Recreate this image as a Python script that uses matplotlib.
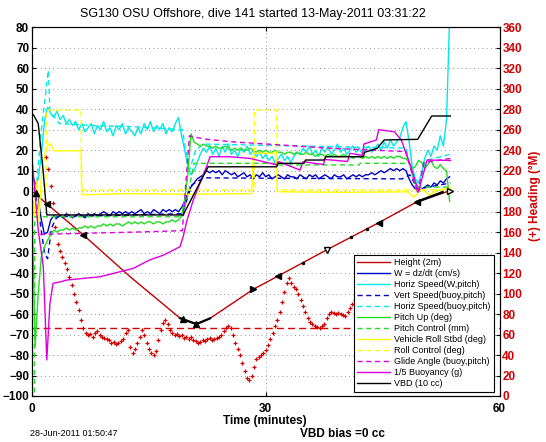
import numpy as np
import matplotlib
matplotlib.use('Agg')
import matplotlib.pyplot as plt

plt.rcParams['font.family'] = ['Liberation Sans', 'DejaVu Sans']

# ---------------- data (time in minutes, left-axis units unless noted) ----------------
step = 0.4  # sample spacing of the noisy traces

hs_w = [0, 2, 6, 18, 34, 41, 38, 36, 39, 35,
        37, 33, 35, 32, 34, 30, 33, 29, 31, 33,
        28, 32, 30, 34, 29, 31, 27, 32, 30, 33,
        28, 31, 29, 27, 31, 28, 33, 30, 34, 29,
        32, 30, 33, 28, 31, 29, 33, 36, 27, 20,
        12, 8, 10, 14, 18, 21, 19, 22, 18, 21,
        17, 22, 19, 23, 18, 20, 17, 21, 19, 22,
        18, 20, 17, 19, 16, 18, 15, 17, 14, 16,
        18, 15, 17, 14, 17, 19, 18, 21, 19, 22,
        18, 20, 17, 21, 19, 22, 18, 20, 23, 19,
        21, 18, 20, 22, 19, 21, 18, 20, 22, 19,
        21, 23, 20, 24, 21, 25, 22, 24, 26, 31,
        34, 24, 12, 6, 4, 9, 16, 20, 17, 22,
        20, 27, 22, 35, 85]

w_dzdt = [8, 4, -4, -14, -21, -20, -14, -12, -13, -12,
          -13, -11, -12, -13, -12, -11, -12, -13, -11, -12,
          -11, -12, -11, -10, -11, -12, -10, -11, -10, -11,
          -10, -11, -10, -11, -10, -9, -11, -10, -11, -9,
          -10, -11, -9, -10, -9, -10, -9, -10, -8, -5,
          -1, 2, 4, 6, 7, 8, 10, 9, 10, 9,
          10, 8, 10, 9, 8, 9, 7, 8, 9, 7,
          8, 6, 8, 7, 9, 7, 8, 6, 7, 8,
          7, 6, 8, 7, 7, 6, 8, 7, 6, 8,
          7, 8, 6, 7, 8, 7, 6, 8, 7, 7,
          8, 6, 7, 8, 7, 8, 7, 8, 8, 9,
          8, 9, 10, 9, 10, 11, 10, 11, 10, 11,
          10, 6, 3, 1, 0, 1, 2, 3, 2, 4,
          3, 5, 4, 6, 7]

pitch = [-5, -76, -50, -32, -27, -24, -21, -19, -20, -19,
         -19, -18, -19, -18, -19, -18, -18, -17, -18, -17,
         -18, -17, -17, -16, -17, -16, -17, -16, -16, -17,
         -16, -15, -16, -15, -16, -15, -16, -15, -15, -16,
         -15, -15, -16, -15, -15, -14, -15, -14, -12, -4,
         8, 28, 24, 23, 22, 23, 22, 22, 21, 22,
         21, 21, 22, 21, 20, 21, 20, 21, 20, 20,
         21, 20, 19, 20, 19, 20, 19, 19, 20, 19,
         19, 18, 19, 19, 18, 19, 18, 18, 19, 18,
         18, 17, 18, 18, 17, 18, 17, 18, 17, 17,
         18, 17, 17, 16, 17, 17, 16, 17, 16, 17,
         16, 17, 16, 17, 16, 17, 16, 17, 17, 16,
         16, 14, 11, 12, 15, 14, 11, 13, 15, 12,
         11, 13, 11, 10, -5]

# heading in degrees (right axis), sampled every 0.3 min from 1.8 min
hdg_t0, hdg_step = 1.8, 0.3
heading = [233, 222, 205, 188, 165, 148, 142, 136, 130, 124,
           116, 108, 100, 92, 84, 74, 66, 62, 60, 61,
           58, 62, 63, 60, 58, 57, 56, 55, 52, 53,
           51, 52, 54, 56, 62, 64, 48, 42, 46, 52,
           58, 64, 60, 52, 46, 42, 40, 44, 55, 64,
           71, 74, 70, 64, 62, 60, 61, 59, 60, 57,
           58, 56, 58, 55, 54, 52, 53, 55, 54, 56,
           57, 55, 56, 57, 58, 60, 63, 66, 68, 66,
           60, 52, 46, 40, 32, 24, 18, 16, 20, 28,
           36, 38, 40, 42, 45, 50, 56, 62, 68, 74,
           82, 92, 102, 110, 115, 110, 106, 104, 100, 94,
           88, 82, 76, 72, 70, 68, 67, 66, 68, 70,
           76, 80, 82, 81, 80, 81, 80, 79, 78, 82,
           86, 90, 94, 96, 98, 100, 103, 105, 108, 110,
           112, 115, 118, 120, 122, 124, 126, 128, 130, 128,
           126, 125, 124, 122, 120, 118, 121, 124, 127, 130,
           128, 126, 124, 122, 120, 119, 121, 123, 125, 127,
           126, 124, 122]

depth_t = [0, 6.6, 12.6, 19.0, 21.1, 22.85, 28.4, 31.6, 37.8, 44.5, 49.4, 53.7]
depth_v = [0, -21.4, -41.8, -62.0, -64.9, -62.1, -47.9, -41.4, -28.7, -15.4, -5.2, 0.3]
heading_target = -67

vbd_t = [0, 0.2, 0.8, 1.45, 1.9, 19.4, 22.6, 31.4, 31.6, 34.9, 35.1, 37.5, 37.7,
         42.5, 42.7, 44.3, 45.2, 49.5, 51.3, 53.7]
vbd_v = [37.5, 37.2, 33, 9, -11.6, -11.6, 11.9, 11.9, 13.6, 13.6, 15.2, 15.2, 16.8,
         16.8, 19, 20.9, 25, 25.3, 36.7, 36.7]

buoy_t = [0, 0.8, 1.45, 1.9, 2.3, 2.7, 3.6, 4.45, 8.7, 13.0, 15.1, 16.9, 19.0, 19.4,
          19.9, 20.7, 22.4, 22.85, 25.4, 28.0, 31.4, 31.6, 34.4, 34.8, 37.4, 37.6,
          40.5, 40.8, 42.4, 42.6, 44.2, 44.5, 46.5, 47.4, 48.6, 49.6, 50.7, 53.7]
buoy_v = [16.2, -19, -36.9, -82.4, -54.8, -45, -44.3, -43.4, -41.8, -37.7, -33.6, -31.2,
          -27.1, -22.2, -14.1, -4.3, 11.9, 16.8, 16.8, 16, 12.8, 14.5, 10.3, 14.4, 13,
          15.5, 14.5, 18.5, 17.5, 23, 25, 30, 29, 25, 12, -0.3, 15.2, 15]

glide_t = [1.0, 2.0, 13.0, 19.3, 20.2, 22.0, 26.0, 31.0, 38.0, 44.0, 48.0, 48.8,
           49.5, 50.3, 53.7]
glide_v = [-21, -21, -20, -19.3, 27, 25.5, 24, 22.8, 21, 20, 19.3, 8, -1, 14, 16]

pctl_t = [0, 0.3, 0.35, 19.3, 20.0, 20.8, 31.5, 31.6, 42.0, 42.1, 48.5, 49.3, 53.7]
pctl_v = [-110, -110, -12.5, -12.5, -2, 13.6, 13.6, 12.8, 12.8, 13.6, 13.6, 2, 2]

roll_t = [0, 0.3, 0.6, 0.9, 1.2, 1.5, 1.9, 2.3, 2.8, 6.3, 6.4, 12.0, 20.0, 28.2,
          28.4, 31.3, 31.5, 40.0, 48.2, 49.0, 50.0, 51.0, 52.0, 53.7]
roll_v = [0, -12, 5, -15, 8, 15, 21.7, 23.4, 19.7, 19.7, -1.8, -1.2, -1.5, -1.2,
          18.5, 18.5, -0.3, -0.6, -0.3, -3, 1, -2, 0.5, 1.5]

rctl_t = [0, 1.8, 1.85, 6.3, 6.35, 28.5, 28.55, 31.4, 31.45, 53.7]
rctl_v = [0, 0, 39.6, 39.6, 0.6, 0.6, 39.6, 39.6, 0.6, 0.6]

vs_t = [0.3, 1.0, 1.6, 2.0, 2.5, 3.2, 19.3, 20.5, 22.0, 47.5, 48.5, 49.5, 53.7]
vs_v = [2, -14, -30, -33, -18, -12.5, -11, 3, 6.5, 6, 8, 1, 4]

hsb_t = [0.5, 1.2, 1.45, 2.1, 2.3, 3.5, 8, 13, 19.3, 20.2, 21, 22, 48, 48.8,
         49.6, 50.5, 53.7]
hsb_v = [0, 30, 38, 59, 39, 33, 32, 31.5, 30, 10, 20, 23, 21, 8, 2, 15, 18]

# events marked on the depth trace
ev_t = [0.5, 1.9, 6.6, 19.4, 21.1, 28.4, 31.6, 37.8, 44.5, 49.4, 53.7]
ev_v = [-1, -6.2, -21.4, -62.5, -64.9, -47.9, -41.4, -28.7, -15.4, -5.2, 0.3]
ev_m = ['^', '<', '<', '^', '^', '>', '<', 'v', '<', '<', '>']
ev_fill = [True, True, True, True, True, True, True, False, True, True, False]
dot_t = [34.8, 41.0, 43.0]
dot_v = [-34.9, -22.2, -18.6]
surf_t = [49.4, 52.7]
surf_v = [-5.2, -0.5]

# ---------------- figure ----------------
RED = '#d40000'
BLUE = '#0000c8'
CYAN = '#00e8e8'
GREEN = '#22dd22'
YELLOW = '#ffff00'
MAGENTA = '#dd00dd'
dash = (0, (3.7, 2.6))

fig = plt.figure(figsize=(5.46, 4.42), dpi=100)
ax = fig.add_axes([32 / 546, 1 - 396 / 442, 467.5 / 546, 368.7 / 442])

tn = np.arange(len(hs_w)) * step

h_depth, = ax.plot(depth_t, depth_v, color='#c00000', lw=1.0, label='Height (2m)')
ax.axhline(heading_target, color=RED, lw=1.0, ls=(0, (5, 3)))
h_w, = ax.plot(tn, w_dzdt, color=BLUE, lw=1.0, label='W = dz/dt (cm/s)')
h_hs, = ax.plot(tn, hs_w, color=CYAN, lw=1.0, label='Horiz Speed(W,pitch)')
h_vs, = ax.plot(vs_t, vs_v, color=BLUE, lw=1.0, ls=dash, label='Vert Speed(buoy,pitch)')
h_hsb, = ax.plot(hsb_t, hsb_v, color=CYAN, lw=1.0, ls=dash, label='Horiz Speed(buoy,pitch)')
h_p, = ax.plot(tn, pitch, color=GREEN, lw=1.0, label='Pitch Up (deg)')
h_pc, = ax.plot(pctl_t, pctl_v, color=GREEN, lw=1.0, ls=dash, label='Pitch Control (mm)')
h_r, = ax.plot(roll_t, roll_v, color=YELLOW, lw=1.0, label='Vehicle Roll Stbd (deg)')
h_rc, = ax.plot(rctl_t, rctl_v, color=YELLOW, lw=1.0, ls=dash, label='Roll Control (deg)')
h_g, = ax.plot(glide_t, glide_v, color=MAGENTA, lw=1.0, ls=dash, label='Glide Angle (buoy,pitch)')
h_b, = ax.plot(buoy_t, buoy_v, color=MAGENTA, lw=1.0, label='1/5 Buoyancy (g)')
h_vbd, = ax.plot(vbd_t, vbd_v, color='k', lw=1.0, label='VBD (10 cc)')

# event markers on the depth line
ax.plot(depth_t[3:6], depth_v[3:6], color='k', lw=1.6)
ax.plot(surf_t, surf_v, color='k', lw=1.8)
for t, v, m, f in zip(ev_t, ev_v, ev_m, ev_fill):
    ax.plot(t, v, marker=m, ms=5, color='k', mfc='k' if f else 'white', mew=1.0)
ax.plot(dot_t, dot_v, 'k.', ms=3)

ax.set_xlim(0, 60)
ax.set_ylim(-100, 80)
ax.set_xticks([0, 30, 60])
ax.set_yticks(range(-100, 81, 10))
ax.grid(True, ls=(0, (1, 4)), color='0.45', lw=0.6)
ax.tick_params(direction='in', length=3, top=True, right=False, labelsize=8.5, pad=2)
ax.tick_params(axis='x', pad=5)
for lab in ax.get_xticklabels() + ax.get_yticklabels():
    lab.set_fontweight('bold')
for s in ax.spines.values():
    s.set_linewidth(0.8)

ax2 = ax.twinx()
hdg_time = hdg_t0 + np.arange(len(heading)) * hdg_step
ax2.plot(hdg_time, heading, '+', color=RED, ms=3.5, mew=0.9)
ax2.set_ylim(0, 360)
ax2.set_yticks(range(0, 361, 20))
ax2.tick_params(direction='in', length=3, labelsize=8.5, labelcolor=RED, pad=2)
for lab in ax2.get_yticklabels():
    lab.set_fontweight('bold')

handles = [h_depth, h_w, h_hs, h_vs, h_hsb, h_p, h_pc, h_r, h_rc, h_g, h_b, h_vbd]
leg = ax2.legend(handles=handles, loc='lower right', bbox_to_anchor=(0.989, 0.012),
                 borderaxespad=0, fontsize=6.5, fancybox=False, framealpha=1,
                 edgecolor='k', handlelength=3.6, handletextpad=0.5,
                 labelspacing=0.22, borderpad=0.4)
leg.get_frame().set_linewidth(0.8)
leg.set_zorder(10)

fig.text(253 / 546, 1 - 14 / 442, 'SG130 OSU Offshore, dive 141 started 13-May-2011 03:31:22',
         ha='center', va='center', fontsize=9)
fig.text(265 / 546, 1 - 421 / 442, 'Time (minutes)', ha='center', va='center',
         fontsize=8.5, fontweight='bold')
fig.text(535 / 546, 1 - 196 / 442, '(+) Heading (\u00b0M)', ha='center', va='center',
         rotation=90, color=RED, fontsize=8.5, fontweight='bold')
fig.text(30 / 546, 1 - 434 / 442, '28-Jun-2011 01:50:47', ha='left', va='center', fontsize=6.5)
fig.text(343 / 546, 1 - 434 / 442, 'VBD bias =0 cc', ha='center', va='center',
         fontsize=8.5, fontweight='bold')

fig.savefig('out.png', dpi=100)
